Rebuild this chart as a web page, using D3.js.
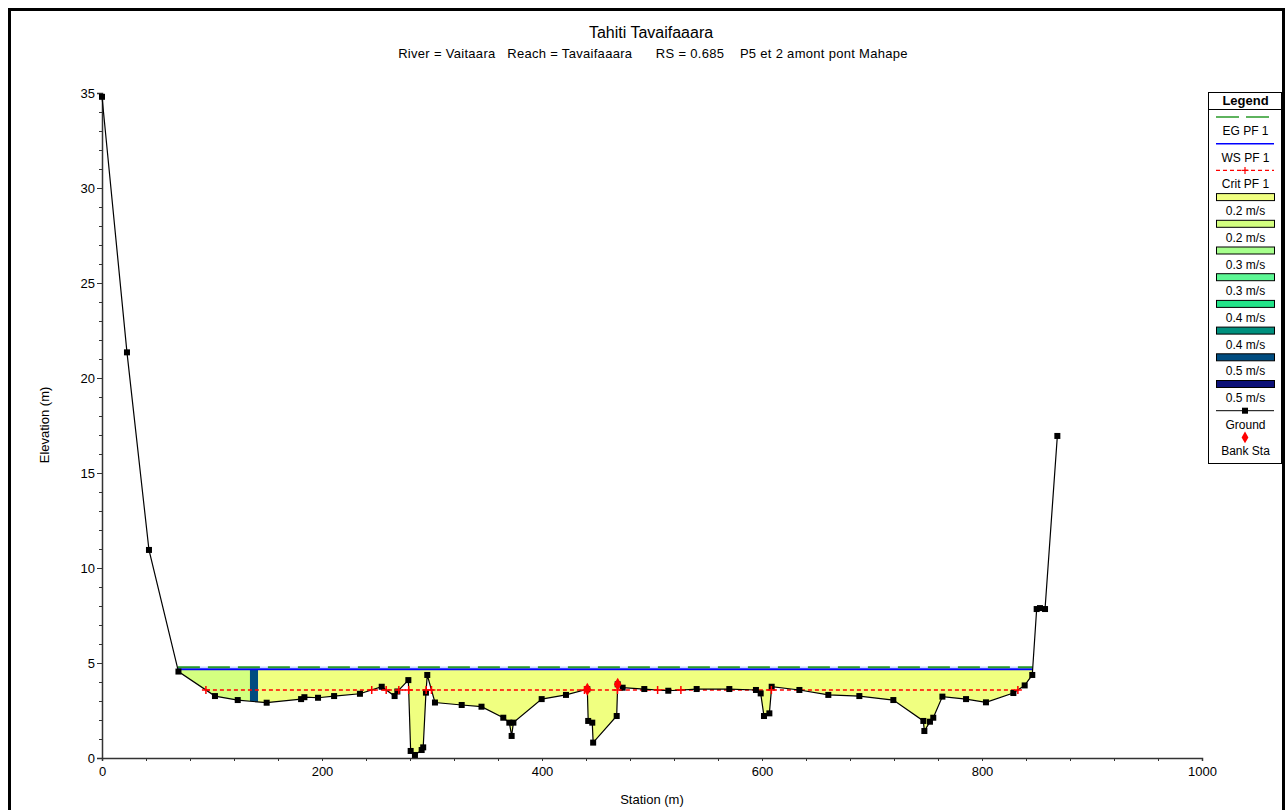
<!DOCTYPE html>
<html>
<head>
<meta charset="utf-8">
<script src="https://cdn.jsdelivr.net/npm/d3@7"></script>
<style>
body { margin: 0; background: #fff; }
text { font-family: "Liberation Sans", Arial, sans-serif; fill: #000; }
</style>
</head>
<body>
<svg id="chart" width="1287" height="810"></svg>
<script>
// ground profile (station m, elevation m)
const station = [0, 22.7, 42.7, 69.5, 102.7, 123.4, 149.7, 181, 184, 196.4, 211, 234.5, 254.3, 266, 268.5,
    278.5, 280.6, 284.5, 290.6, 292, 294.5, 295.7, 302.7, 327, 345, 364.8, 370.3, 372.4, 374, 399.7, 421.8,
    441.2, 442, 445.7, 446.5, 467.9, 468.8, 473.3, 493, 514.8, 540.6, 570.3, 594.5, 598.8, 601.8, 606.7,
    608.8, 634, 660.3, 688.5, 719.4, 746.7, 747.6, 752.7, 755.7, 764, 785.5, 803.6, 828.5, 838.8, 845.7,
    849.7, 852.7, 857.3, 868.5];
const elevation = [34.8, 21.35, 10.95, 4.55, 3.26, 3.05, 2.91, 3.1, 3.2, 3.17, 3.26, 3.38, 3.75, 3.26, 3.5,
    4.1, 0.37, 0.16, 0.42, 0.56, 3.44, 4.37, 2.92, 2.79, 2.7, 2.12, 1.86, 1.16, 1.86, 3.1, 3.32,
    3.62, 1.95, 1.86, 0.81, 2.21, 3.88, 3.7, 3.63, 3.54, 3.63, 3.63, 3.58, 3.4, 2.21, 2.35,
    3.75, 3.58, 3.32, 3.26, 3.05, 1.95, 1.42, 1.91, 2.12, 3.23, 3.1, 2.93, 3.42, 3.82, 4.37,
    7.84, 7.89, 7.84, 16.95];
const bankSta = [441.2, 468.8];

// profile 1 water levels
const egElev = 4.72;
const wsElev = 4.67;
const critElev = 3.58;

// velocity slices: breaks between slices and legend colour index per slice
const sliceBreaks = [134.5, 142];
const sliceVel = [1, 6, 0];

const velLabels = ["0.2 m/s", "0.2 m/s", "0.3 m/s", "0.3 m/s", "0.4 m/s", "0.4 m/s", "0.5 m/s", "0.5 m/s"];
const velColors = ["#f0ff80", "#d4ff80", "#a6ff8c", "#5cf894", "#22e488", "#00907e", "#004c80", "#0c1078"];

const xTicks = [0, 200, 400, 600, 800, 1000];
const yTicks = [0, 5, 10, 15, 20, 25, 30, 35];

const svg = d3.select("#chart");
const x = d3.scaleLinear().domain([0, 1000]).range([102, 1202]);
const y = d3.scaleLinear().domain([0, 35]).range([758, 93]);

const ground = station.map((s, i) => ({s: s, g: elevation[i]}));

// outer frame
svg.append("rect").attr("x", 9.5).attr("y", 9.5).attr("width", 1274).attr("height", 812)
    .attr("fill", "none").attr("stroke", "#000").attr("stroke-width", 3);

// titles
svg.append("text").attr("x", 651).attr("y", 38).attr("text-anchor", "middle")
    .style("font-size", "16px").text("Tahiti Tavaifaaara");
svg.append("text").attr("x", 653).attr("y", 58).attr("text-anchor", "middle")
    .style("font-size", "13px").style("letter-spacing", "0.3px").attr("xml:space", "preserve")
    .text("River = Vaitaara   Reach = Tavaifaaara      RS = 0.685    P5 et 2 amont pont Mahape");

// where a level meets the ground
function crossings(level) {
    let out = [];
    for (let i = 0; i < ground.length - 1; i++) {
        let a = ground[i], b = ground[i + 1];
        if ((a.g - level) * (b.g - level) < 0) {
            out.push(a.s + (level - a.g) / (b.g - a.g) * (b.s - a.s));
        }
    }
    return out;
}

const wsX = crossings(wsElev);
const xl = wsX[0], xr = wsX[wsX.length - 1];

// wetted area
let wet = [{s: xl, g: wsElev}].concat(ground.filter(d => d.s > xl && d.s < xr)).concat([{s: xr, g: wsElev}]);
const area = d3.area().x(d => x(d.s)).y0(d => y(d.g)).y1(y(wsElev));

const edges = [xl].concat(sliceBreaks).concat([xr]);
const defs = svg.append("defs");
sliceVel.forEach((v, i) => {
    defs.append("clipPath").attr("id", "slice" + i)
        .append("rect").attr("x", x(edges[i])).attr("y", 0)
        .attr("width", x(edges[i + 1]) - x(edges[i])).attr("height", 810);
    svg.append("path").datum(wet).attr("d", area)
        .attr("fill", velColors[v]).attr("clip-path", "url(#slice" + i + ")");
});

// axes
const yMinor = svg.append("g").attr("transform", "translate(102,0)")
    .call(d3.axisLeft(y).tickValues(d3.range(0, 36, 1)).tickSize(3).tickFormat(""));
const yAxis = svg.append("g").attr("transform", "translate(102,0)")
    .call(d3.axisLeft(y).tickValues(yTicks).tickSize(5).tickPadding(2));
const xMinor = svg.append("g").attr("transform", "translate(0,758)")
    .call(d3.axisBottom(x).tickValues(d3.range(0, 1001, 40)).tickSize(3).tickFormat(""));
const xAxis = svg.append("g").attr("transform", "translate(0,758)")
    .call(d3.axisBottom(x).tickValues(xTicks).tickSize(3).tickPadding(6).tickFormat(d3.format("d")));
svg.selectAll(".domain").attr("stroke", "#333").attr("stroke-width", 1.5);
svg.selectAll(".tick line").attr("stroke", "#333");
[yAxis, xAxis].forEach(g => g.selectAll("text").style("font-size", "13px")
    .style("font-family", "'Liberation Sans', Arial, sans-serif").attr("fill", "#000"));
yMinor.select(".domain").remove();
xMinor.select(".domain").remove();

svg.append("text").attr("transform", "translate(49,425) rotate(-90)").attr("text-anchor", "middle")
    .style("font-size", "13px").text("Elevation (m)");
svg.append("text").attr("x", 652).attr("y", 804).attr("text-anchor", "middle")
    .style("font-size", "13px").text("Station (m)");

// crit line
const critX = crossings(critElev).filter(s => s > xl && s < xr);
svg.append("line").attr("x1", x(critX[0])).attr("x2", x(critX[critX.length - 1]))
    .attr("y1", y(critElev)).attr("y2", y(critElev))
    .attr("stroke", "#ff0000").attr("stroke-width", 1.5).attr("stroke-dasharray", "4,3");

// water surface and energy grade
svg.append("line").attr("x1", x(xl)).attr("x2", x(xr)).attr("y1", y(wsElev)).attr("y2", y(wsElev))
    .attr("stroke", "#0000ff").attr("stroke-width", 2);
svg.append("line").attr("x1", x(xl)).attr("x2", x(xr)).attr("y1", y(egElev) - 1).attr("y2", y(egElev) - 1)
    .attr("stroke", "#c8d8ff").attr("stroke-width", 1.5);
svg.append("line").attr("x1", x(xl)).attr("x2", x(xr)).attr("y1", y(egElev) - 1).attr("y2", y(egElev) - 1)
    .attr("stroke", "#2a9a2a").attr("stroke-width", 2).attr("stroke-dasharray", "22,8");

// ground
const line = d3.line().x(d => x(d.s)).y(d => y(d.g));
svg.append("path").datum(ground).attr("d", line).attr("fill", "none").attr("stroke", "#000").attr("stroke-width", 1.2);
svg.append("g").selectAll("rect").data(ground).enter().append("rect")
    .attr("x", d => x(d.s) - 3).attr("y", d => y(d.g) - 3).attr("width", 6).attr("height", 6).attr("fill", "#000");

// crit markers
svg.append("g").selectAll("path").data(critX).enter().append("path")
    .attr("d", d => `M${x(d) - 4},${y(critElev)}h8M${x(d)},${y(critElev) - 4}v8`)
    .attr("stroke", "#ff0000").attr("stroke-width", 1.5);

// bank stations
const gAt = s => ground.find(d => d.s === s).g;
svg.append("g").selectAll("path").data(bankSta).enter().append("path")
    .attr("d", d3.symbol().type(d3.symbolDiamond).size(50))
    .attr("transform", d => `translate(${x(d)},${y(gAt(d))})`).attr("fill", "#ff0000");

// legend
const lg = svg.append("g");
const lx0 = 1208, lx1 = 1281, lcx = (lx0 + lx1) / 2;
lg.append("rect").attr("x", lx0 + 0.5).attr("y", 92.5).attr("width", lx1 - lx0).attr("height", 371)
    .attr("fill", "#fff").attr("stroke", "#000");
lg.append("line").attr("x1", lx0).attr("x2", lx1 + 1).attr("y1", 109.5).attr("y2", 109.5).attr("stroke", "#000");
lg.append("text").attr("x", lcx + 1).attr("y", 105).attr("text-anchor", "middle")
    .style("font-size", "13px").style("font-weight", "bold").text("Legend");

const rowY = i => 117 + i * 26.7;
const sx0 = 1216, sx1 = 1274;
const labels = ["EG PF 1", "WS PF 1", "Crit PF 1"].concat(velLabels).concat(["Ground", "Bank Sta"]);
labels.forEach((t, i) => {
    lg.append("text").attr("x", lcx + 1).attr("y", rowY(i) + 18).attr("text-anchor", "middle")
        .style("font-size", "12px").text(t);
});
lg.append("line").attr("x1", sx0).attr("x2", sx1).attr("y1", rowY(0)).attr("y2", rowY(0))
    .attr("stroke", "#2a9a2a").attr("stroke-width", 1.5).attr("stroke-dasharray", "23,7");
lg.append("line").attr("x1", sx0).attr("x2", sx1).attr("y1", rowY(1)).attr("y2", rowY(1))
    .attr("stroke", "#0000ff").attr("stroke-width", 1.5);
lg.append("line").attr("x1", sx0).attr("x2", sx1).attr("y1", rowY(2)).attr("y2", rowY(2))
    .attr("stroke", "#ff0000").attr("stroke-width", 1.2).attr("stroke-dasharray", "4,3");
lg.append("path").attr("d", `M${lcx - 3},${rowY(2)}h7M${lcx + 0.5},${rowY(2) - 3.5}v7`)
    .attr("stroke", "#ff0000").attr("stroke-width", 1.2);
velColors.forEach((c, i) => {
    lg.append("rect").attr("x", sx0 + 0.5).attr("y", rowY(3 + i) - 3.5).attr("width", sx1 - sx0).attr("height", 7)
        .attr("fill", c).attr("stroke", "#000");
});
lg.append("line").attr("x1", sx0).attr("x2", sx1).attr("y1", rowY(11)).attr("y2", rowY(11)).attr("stroke", "#000");
lg.append("rect").attr("x", lcx - 2.5).attr("y", rowY(11) - 3).attr("width", 6).attr("height", 6).attr("fill", "#000");
lg.append("path").attr("d", d3.symbol().type(d3.symbolDiamond).size(40))
    .attr("transform", `translate(${lcx + 0.5},${rowY(12)})`).attr("fill", "#ff0000");
</script>
</body>
</html>
